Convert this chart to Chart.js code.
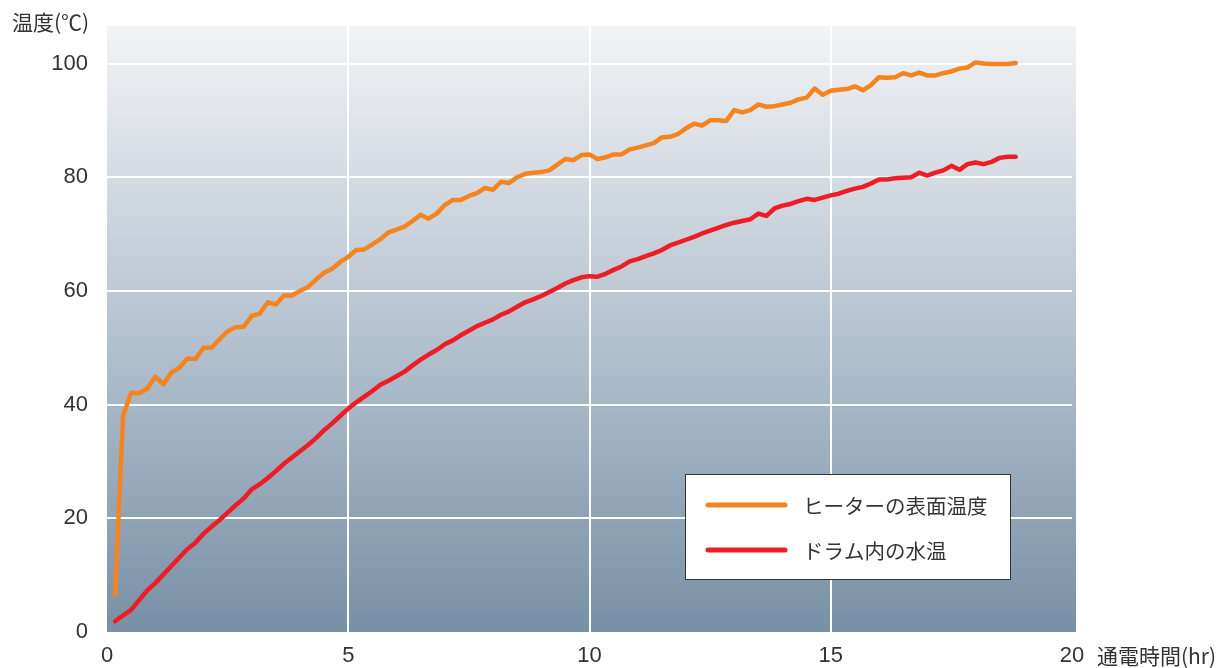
<!DOCTYPE html>
<html>
<head>
<meta charset="utf-8">
<script src="https://cdn.jsdelivr.net/npm/chart.js@4"></script>
<style>
  html, body { margin: 0; padding: 0; background: #fff; }
  canvas { display: block; }
</style>
</head>
<body>
<canvas id="tempChart" width="1224" height="668"></canvas>
<script>
// elapsed time in minutes (one reading every 10 min)
const minutes = [
  10, 20, 30, 40, 50, 60, 70, 80, 90, 100,
  110, 120, 130, 140, 150, 160, 170, 180, 190, 200,
  210, 220, 230, 240, 250, 260, 270, 280, 290, 300,
  310, 320, 330, 340, 350, 360, 370, 380, 390, 400,
  410, 420, 430, 440, 450, 460, 470, 480, 490, 500,
  510, 520, 530, 540, 550, 560, 570, 580, 590, 600,
  610, 620, 630, 640, 650, 660, 670, 680, 690, 700,
  710, 720, 730, 740, 750, 760, 770, 780, 790, 800,
  810, 820, 830, 840, 850, 860, 870, 880, 890, 900,
  910, 920, 930, 940, 950, 960, 970, 980, 990, 1000,
  1010, 1020, 1030, 1040, 1050, 1060, 1070, 1080, 1090, 1100,
  1110, 1120, 1130
];

const heaterTemp = [
  6.5, 38.1, 42.1, 42.0, 42.8, 44.9, 43.6, 45.6, 46.5, 48.1,
  48.0, 50.0, 50.0, 51.5, 52.9, 53.6, 53.7, 55.6, 56.0, 58.0,
  57.6, 59.2, 59.2, 60.0, 60.7, 62.0, 63.2, 63.9, 65.1, 66.0,
  67.2, 67.3, 68.2, 69.1, 70.3, 70.8, 71.3, 72.3, 73.4, 72.7,
  73.6, 75.1, 76.0, 76.0, 76.7, 77.2, 78.1, 77.8, 79.2, 79.0,
  80.0, 80.6, 80.8, 80.9, 81.2, 82.2, 83.2, 83.0, 83.9, 84.0,
  83.2, 83.5, 84.0, 84.0, 84.9, 85.2, 85.6, 86.0, 87.0, 87.1,
  87.6, 88.6, 89.4, 89.1, 90.0, 90.0, 89.9, 91.8, 91.4, 91.8,
  92.8, 92.4, 92.5, 92.8, 93.1, 93.7, 94.0, 95.6, 94.5, 95.2,
  95.4, 95.5, 96.0, 95.3, 96.2, 97.6, 97.5, 97.6, 98.3, 97.9,
  98.4, 97.9, 97.9, 98.3, 98.6, 99.1, 99.3, 100.2, 100.0, 99.9,
  99.9, 99.9, 100.1
];

const waterTemp = [
  1.9, 2.9, 3.9, 5.6, 7.3, 8.6, 10.1, 11.6, 13.1, 14.6,
  15.7, 17.3, 18.5, 19.7, 21.0, 22.3, 23.5, 25.1, 26.0, 27.1,
  28.3, 29.6, 30.7, 31.8, 32.9, 34.1, 35.5, 36.7, 38.0, 39.3,
  40.4, 41.4, 42.4, 43.5, 44.2, 45.0, 45.8, 46.9, 47.9, 48.8,
  49.6, 50.6, 51.3, 52.2, 53.0, 53.8, 54.4, 55.0, 55.8, 56.4,
  57.2, 58.0, 58.5, 59.1, 59.8, 60.5, 61.3, 61.9, 62.4, 62.6,
  62.5, 63.0, 63.7, 64.3, 65.2, 65.6, 66.1, 66.6, 67.2, 68.0,
  68.5, 69.0, 69.5, 70.1, 70.6, 71.1, 71.6, 72.0, 72.3, 72.6,
  73.6, 73.2, 74.5, 75.0, 75.3, 75.8, 76.2, 76.0, 76.4, 76.8,
  77.1, 77.6, 78.0, 78.3, 78.9, 79.6, 79.6, 79.8, 79.9, 80.0,
  80.8, 80.3, 80.8, 81.2, 82.0, 81.3, 82.3, 82.6, 82.3, 82.7,
  83.4, 83.6, 83.6
];

const seriesNames = ["ヒーターの表面温度", "ドラム内の水温"];
const seriesColors = ["#f5841f", "#ee1c25"];
const xTicks = [0, 5, 10, 15, 20];
const yTicks = [0, 20, 40, 60, 80, 100];
const xTitle = "通電時間(hr)";
const yTitle = "温度(℃)";

const tickFont = { family: "'Liberation Sans', Arial, sans-serif", size: 22 };
const jpFont = "'Noto Sans CJK JP', sans-serif";

function toPoints(values) {
  return minutes.map((m, i) => ({ x: m / 60, y: values[i] }));
}

const plotBackground = {
  id: "plotBackground",
  beforeDraw(chart) {
    const { ctx, chartArea: a } = chart;
    const g = ctx.createLinearGradient(0, a.top, 0, a.bottom);
    g.addColorStop(0, "#f2f3f5");
    g.addColorStop(0.5, "#b6c3d0");
    g.addColorStop(1, "#7890a6");
    ctx.save();
    ctx.fillStyle = g;
    ctx.fillRect(a.left, a.top, a.right - a.left + 4, a.bottom - a.top);
    ctx.restore();
  }
};

const extras = {
  id: "extras",
  afterDraw(chart) {
    const ctx = chart.ctx;
    ctx.save();
    // axis titles
    ctx.fillStyle = "#333";
    ctx.font = "21px " + jpFont;
    ctx.textAlign = "left";
    ctx.textBaseline = "middle";
    ctx.fillText(yTitle, 12, 22);
    ctx.fillText(xTitle, 1097, 656);

    // legend box
    ctx.fillStyle = "#fff";
    ctx.fillRect(685.5, 474.5, 325, 105);
    ctx.strokeStyle = "#333";
    ctx.lineWidth = 1;
    ctx.strokeRect(685.5, 474.5, 325, 105);
    const rows = [505, 550];
    chart.data.datasets.forEach((ds, i) => {
      ctx.strokeStyle = ds.borderColor;
      ctx.lineWidth = 5;
      ctx.lineCap = "round";
      ctx.beginPath();
      ctx.moveTo(708, rows[i]);
      ctx.lineTo(785, rows[i]);
      ctx.stroke();
      ctx.fillStyle = "#333";
      ctx.font = "20.5px " + jpFont;
      ctx.fillText(ds.label, 803, rows[i] + 1);
    });
    ctx.restore();
  }
};

const ctx = document.getElementById("tempChart").getContext("2d");
new Chart(ctx, {
  type: "line",
  data: {
    datasets: [
      {
        label: seriesNames[0],
        data: toPoints(heaterTemp),
        borderColor: seriesColors[0],
        borderWidth: 4.5,
        pointRadius: 0,
        tension: 0,
        borderJoinStyle: "round",
        borderCapStyle: "round"
      },
      {
        label: seriesNames[1],
        data: toPoints(waterTemp),
        borderColor: seriesColors[1],
        borderWidth: 4.5,
        pointRadius: 0,
        tension: 0,
        borderJoinStyle: "round",
        borderCapStyle: "round"
      }
    ]
  },
  options: {
    responsive: false,
    devicePixelRatio: 1,
    animation: false,
    layout: { padding: { top: 26, right: 152, left: 0, bottom: 0 } },
    plugins: {
      legend: { display: false },
      tooltip: { enabled: false }
    },
    scales: {
      x: {
        type: "linear",
        min: 0,
        max: 20,
        afterBuildTicks: s => { s.ticks = xTicks.map(v => ({ value: v })); },
        afterFit: s => {
          s.height = 36;
          s.paddingLeft = 0;
          s.paddingRight = 0;
        },
        ticks: { color: "#333", font: tickFont, padding: 11, maxRotation: 0 },
        grid: {
          color: c => (c.tick && (c.tick.value === 0 || c.tick.value === 20)) ? "rgba(0,0,0,0)" : "#ffffff",
          lineWidth: 2,
          drawTicks: false
        },
        border: { display: false }
      },
      y: {
        min: 0,
        max: 106.6,
        afterBuildTicks: s => { s.ticks = yTicks.map(v => ({ value: v })); },
        afterFit: s => {
          s.width = 107;
          s.paddingTop = 0;
          s.paddingBottom = 0;
        },
        ticks: { color: "#333", font: tickFont, padding: 19 },
        grid: {
          color: c => (c.tick && c.tick.value === 0) ? "rgba(0,0,0,0)" : "#ffffff",
          lineWidth: 2,
          drawTicks: false
        },
        border: { display: false }
      }
    }
  },
  plugins: [plotBackground, extras]
});
</script>
</body>
</html>
